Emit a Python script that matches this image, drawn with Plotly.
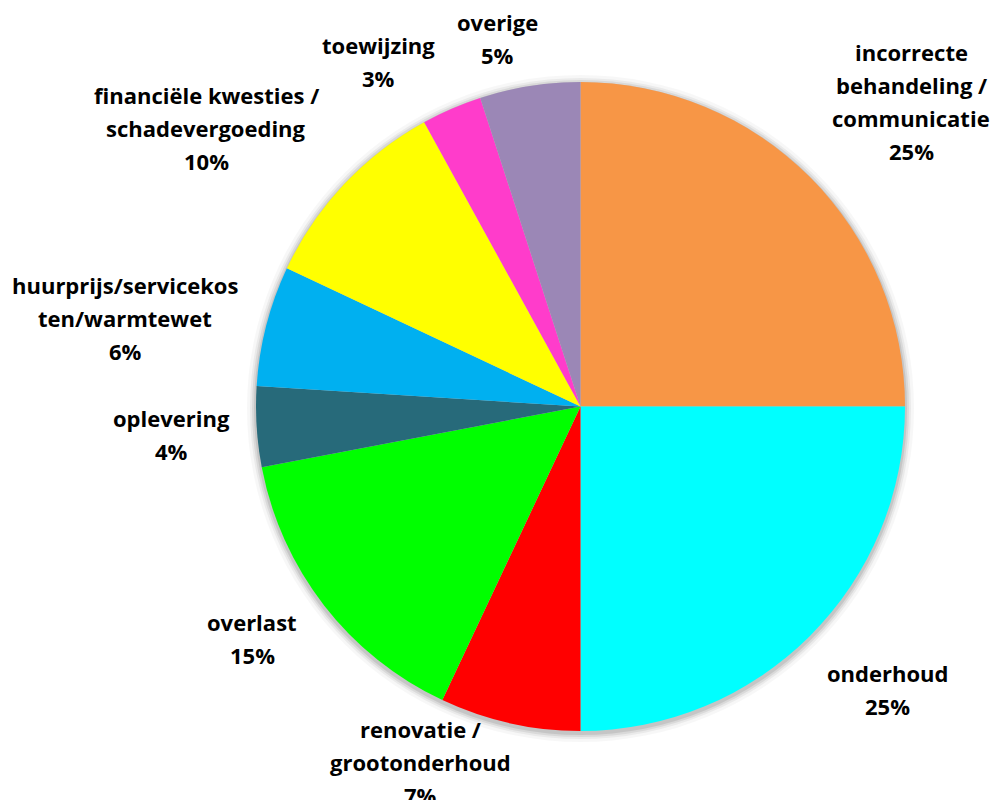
import plotly.graph_objects as go

# Klachten per categorie (aandeel in %)
categories = [
    "incorrecte behandeling / communicatie",
    "onderhoud",
    "renovatie / grootonderhoud",
    "overlast",
    "oplevering",
    "huurprijs/servicekosten/warmtewet",
    "financiële kwesties / schadevergoeding",
    "toewijzing",
    "overige",
]
values = [25, 25, 7, 15, 4, 6, 10, 3, 5]

# Regelafbreking van de labels zoals in het diagram
label_lines = [
    ["incorrecte", "behandeling /", "communicatie"],
    ["onderhoud"],
    ["renovatie /", "grootonderhoud"],
    ["overlast"],
    ["oplevering"],
    ["huurprijs/servicekos", "ten/warmtewet"],
    ["financiële kwesties /", "schadevergoeding"],
    ["toewijzing"],
    ["overige"],
]

colors = ["#F79646", "#00FFFF", "#FF0000", "#00FF00", "#276A7A",
          "#00B0F0", "#FFFF00", "#FF3CCB", "#9B87B6"]

W, H = 993, 800
cx, cy, r = 580.5, 406.5, 324.5

# Label anchor (centre x, centre of first line y) in pixels
label_pos = [(911, 52), (887, 673), (420, 729), (252, 622), (171, 418),
             (125, 285), (206, 95), (378, 45), (497, 22)]
line_gap = 33

fig = go.Figure()
fig.add_trace(go.Pie(
    labels=categories,
    values=values,
    sort=False,
    direction="clockwise",
    rotation=0,
    marker=dict(colors=colors, line=dict(width=0)),
    textinfo="none",
    hoverinfo="label+percent",
    showlegend=False,
    domain=dict(x=[(cx - r) / W, (cx + r) / W], y=[1 - (cy + r) / H, 1 - (cy - r) / H]),
))

# Soft shadow around the pie
shapes = []
for dr, op in [(9, 0.03), (6, 0.05), (4, 0.07), (2, 0.09)]:
    rr = r + dr
    shapes.append(dict(
        type="circle", xref="paper", yref="paper", layer="below",
        x0=(cx - rr) / W, x1=(cx + rr) / W,
        y0=1 - (cy + 2 + rr) / H, y1=1 - (cy + 2 - rr) / H,
        fillcolor="rgba(0,0,0,%s)" % op, line=dict(width=0),
    ))

total = sum(values)
annotations = []
for lines, v, (px, py) in zip(label_lines, values, label_pos):
    all_lines = lines + ["%d%%" % round(v / total * 100)]
    for k, txt in enumerate(all_lines):
        annotations.append(dict(
            x=px / W, y=1 - (py + k * line_gap) / H,
            xref="paper", yref="paper",
            text="<b>%s</b>" % txt, showarrow=False,
            xanchor="center", yanchor="middle",
            font=dict(family="Open Sans, sans-serif", size=22, color="#000000"),
        ))

fig.update_layout(
    width=W, height=H,
    margin=dict(l=0, r=0, t=0, b=0),
    paper_bgcolor="white",
    plot_bgcolor="white",
    shapes=shapes,
    annotations=annotations,
)

fig.write_html("out.html")
